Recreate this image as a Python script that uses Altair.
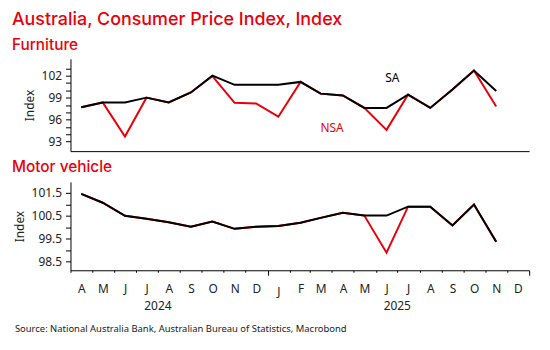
import altair as alt
import pandas as pd

# ---------------- data ----------------
months = ["2024-04", "2024-05", "2024-06", "2024-07", "2024-08", "2024-09", "2024-10",
          "2024-11", "2024-12", "2025-01", "2025-02", "2025-03", "2025-04", "2025-05",
          "2025-06", "2025-07", "2025-08", "2025-09", "2025-10", "2025-11"]

furniture_sa = [97.7, 98.35, 98.35, 99.0, 98.35, 99.7, 102.0, 100.75, 100.75, 100.75,
                101.15, 99.55, 99.3, 97.6, 97.6, 99.4, 97.6, 100.1, 102.7, 99.9]
furniture_nsa = [97.7, 98.35, 93.7, 99.0, 98.35, 99.7, 101.95, 98.3, 98.2, 96.4,
                 101.15, 99.55, 99.3, 97.6, 94.6, 99.4, 97.6, 100.1, 102.7, 97.8]

motor_sa = [101.46, 101.07, 100.5, 100.37, 100.22, 100.02, 100.25, 99.93, 100.02, 100.05,
            100.2, 100.41, 100.63, 100.51, 100.51, 100.9, 100.9, 100.08, 100.99, 99.37]
motor_nsa = [101.46, 101.07, 100.5, 100.37, 100.22, 100.02, 100.25, 99.93, 100.02, 100.05,
             100.2, 100.41, 100.63, 100.51, 98.89, 100.9, 100.9, 100.08, 100.99, 99.37]

series_names = ["NSA", "SA"]
title_text = "Australia, Consumer Price Index, Index"
panel_titles = ["Furniture", "Motor vehicle"]
source_text = "Source: National Australia Bank, Australian Bureau of Statistics, Macrobond"
year_labels = ["2024", "2025"]
year_label_dates = ["2024-08-01T00:00:00", "2025-07-01T00:00:00"]
annot_labels = ["SA", "NSA"]
annot_dates = ["2025-06-24T00:00:00", "2025-04-01T00:00:00"]
annot_values = [101.7, 94.8]

furn_ticks = [93, 94, 95, 96, 97, 98, 99, 100, 101, 102, 103]
motor_ticks = [98.5, 99.0, 99.5, 100.0, 100.5, 101.0, 101.5]

RED = "#e8000b"
BLACK = "#000000"
LABEL_FONT = "Noto Sans"
TITLE_FONT = "Inter"


def long_frame(sa, nsa):
    rows = []
    for m, v in zip(months, nsa):
        rows.append({"date": m + "-16T00:00:00", "series": "NSA", "value": v})
    for m, v in zip(months, sa):
        rows.append({"date": m + "-16T00:00:00", "series": "SA", "value": v})
    return pd.DataFrame(rows)


furn_df = long_frame(furniture_sa, furniture_nsa)
motor_df = long_frame(motor_sa, motor_nsa)

x_domain = [alt.DateTime(year=2024, month=4, date=1), alt.DateTime(year=2026, month=1, date=1)]
month_starts = [alt.DateTime(year=2024 + (3 + i) // 12, month=(3 + i) % 12 + 1, date=1) for i in range(22)]

color_scale = alt.Scale(domain=series_names, range=[RED, BLACK])

W = 462
H1 = 93
H2 = 89

# shared encodings
x_top = alt.X("date:T", scale=alt.Scale(domain=x_domain),
              axis=alt.Axis(labels=False, ticks=False, title=None, domainColor=BLACK, grid=False))
y_top = alt.Y("value:Q", scale=alt.Scale(domain=[91.7, 104.3], nice=False, zero=False),
              axis=alt.Axis(values=furn_ticks, labelExpr="datum.value % 3 == 0 ? datum.label : ''",
                            title="Index", tickSize=5, labelPadding=4, titlePadding=5,
                            grid=False, labelOverlap=False, domainColor=BLACK, tickColor=BLACK))
x_bottom = alt.X("date:T", scale=alt.Scale(domain=x_domain),
                 axis=alt.Axis(values=month_starts, title=None, grid=False,
                               labelExpr="year(datum.value) == 2026 ? '' : slice(timeFormat(datum.value, '%b'), 0, 1)",
                               labelOffset=11, labelFlush=False, labelOverlap=False,
                               labelPadding=11, domainColor=BLACK, tickColor=BLACK,
                               tickSize={"condition": {"test": "month(datum.value) == 0", "value": 5}, "value": 2}))
y_bottom = alt.Y("value:Q", scale=alt.Scale(domain=[98.12, 101.98], nice=False, zero=False),
                 axis=alt.Axis(values=motor_ticks, format=".1f",
                               labelExpr="datum.value % 1 != 0 ? datum.label : ''",
                               title="Index", tickSize=5, labelPadding=4, titlePadding=5,
                               grid=False, labelOverlap=False, domainColor=BLACK, tickColor=BLACK))

# ---------------- top panel ----------------
furn_lines = alt.Chart(furn_df).mark_line(strokeWidth=2).encode(
    x=x_top, y=y_top,
    color=alt.Color("series:N", scale=color_scale, legend=None),
    order=alt.Order("series:N"),
)

annot_df = pd.DataFrame({"date": annot_dates, "value": annot_values, "label": annot_labels})
annot = alt.Chart(annot_df).mark_text(font=LABEL_FONT, fontSize=12, baseline="middle").encode(
    x=x_top, y=y_top, text="label:N",
    color=alt.Color("label:N", scale=alt.Scale(domain=["NSA", "SA"], range=[RED, BLACK]), legend=None),
)

main_title = alt.Chart(pd.DataFrame({"t": [title_text]})).mark_text(
    align="left", baseline="alphabetic", font=TITLE_FONT, fontSize=18, fontWeight=500, color=RED
).encode(x=alt.value(-59), y=alt.value(-34), text="t:N")

furn_title = alt.Chart(pd.DataFrame({"t": [panel_titles[0]]})).mark_text(
    align="left", baseline="alphabetic", font=TITLE_FONT, fontSize=15.5, fontWeight=500, color=RED
).encode(x=alt.value(-59), y=alt.value(-9), text="t:N")

top = alt.layer(furn_lines, annot, main_title, furn_title).properties(width=W, height=H1)

# ---------------- bottom panel ----------------
motor_lines = alt.Chart(motor_df).mark_line(strokeWidth=2).encode(
    x=x_bottom, y=y_bottom,
    color=alt.Color("series:N", scale=color_scale, legend=None),
    order=alt.Order("series:N"),
)

year_df = pd.DataFrame({"date": year_label_dates, "label": year_labels})
years = alt.Chart(year_df).mark_text(font=LABEL_FONT, fontSize=12, baseline="middle", color="#222222").encode(
    x=x_bottom, y=alt.value(125), text="label:N")

motor_title = alt.Chart(pd.DataFrame({"t": [panel_titles[1]]})).mark_text(
    align="left", baseline="alphabetic", font=TITLE_FONT, fontSize=15.5, fontWeight=500, color=RED
).encode(x=alt.value(-59), y=alt.value(-10), text="t:N")

source = alt.Chart(pd.DataFrame({"t": [source_text]})).mark_text(
    align="left", baseline="middle", font=LABEL_FONT, fontSize=9.5, color="#222222"
).encode(x=alt.value(-56), y=alt.value(148), text="t:N")

bottom = alt.layer(motor_lines, years, motor_title, source).properties(width=W, height=H2)

chart = alt.vconcat(top, bottom, spacing=9).configure(
    padding={"left": 12, "top": 10, "right": 10, "bottom": 5}
).configure_view(stroke=None).configure_axis(
    labelFont=LABEL_FONT, labelFontSize=12, labelColor="#222222",
    titleFont=LABEL_FONT, titleFontSize=12, titleFontWeight="normal", titleColor="#222222",
)

chart.save("out.html", embed_options={"renderer": "svg", "actions": False})
